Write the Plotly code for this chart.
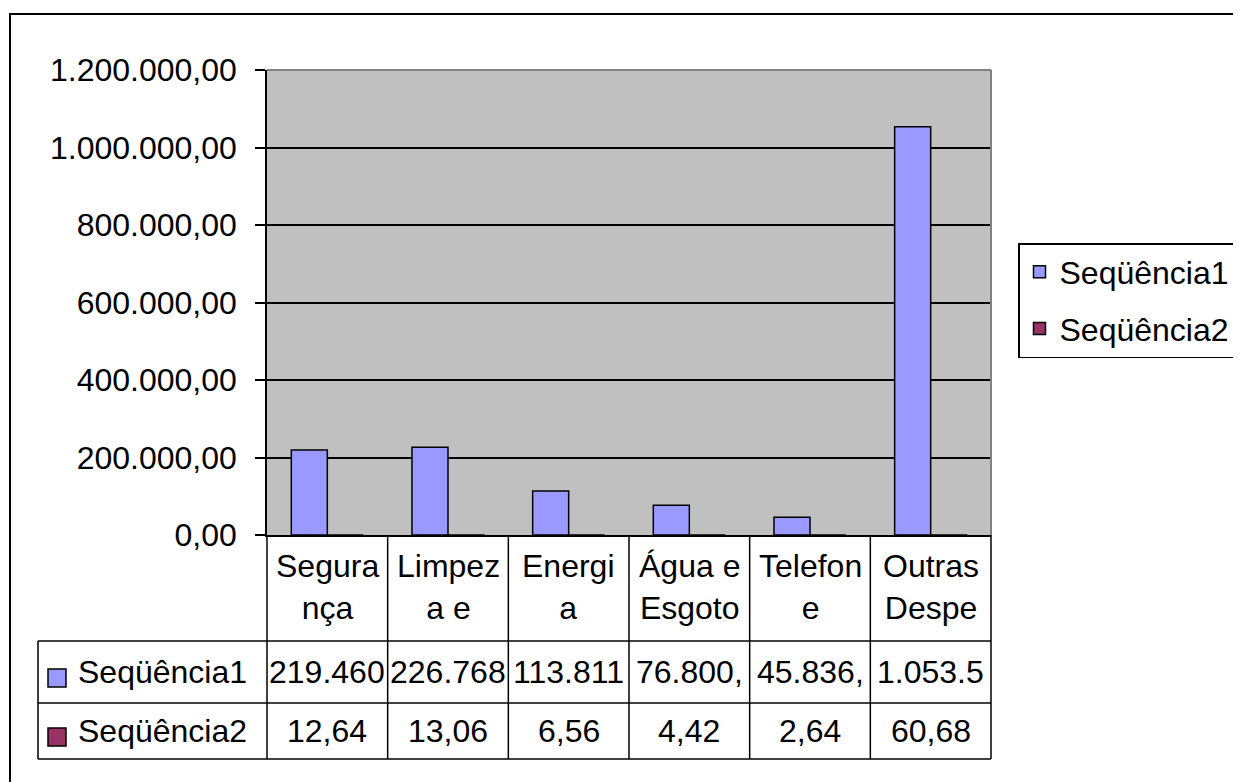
import plotly.graph_objects as go

# ---------------- data ----------------
categories = ["Segura<br>nça", "Limpez<br>a e", "Energi<br>a", "Água e<br>Esgoto", "Telefon<br>e", "Outras<br>Despe"]
series_names = ["Seqüência1", "Seqüência2"]
serie1 = [219460.0, 226768.0, 113811.0, 76800.0, 45836.0, 1053500.0]
serie2 = [12.64, 13.06, 6.56, 4.42, 2.64, 60.68]
y_tickvals = [0, 200000, 400000, 600000, 800000, 1000000, 1200000]
y_ticktext = ["0,00", "200.000,00", "400.000,00", "600.000,00", "800.000,00", "1.000.000,00", "1.200.000,00"]
colors = ["#9999FF", "#993366"]

FONT = "Liberation Sans, Arial, sans-serif"
FS = 32

def br(v):
    s = f"{v:,.2f}"
    return s.replace(",", "#").replace(".", ",").replace("#", ".")

def cell(v, n=7):
    return br(v)[:n]

# ---------------- geometry helpers ----------------
OFF = 8  # page body margin
W, H = 1241, 782
PLOT_X0, PLOT_X1, PLOT_Y0, PLOT_Y1 = 267, 991, 70, 535  # screen pixels of plot area
L = PLOT_X0 - OFF
T = PLOT_Y0 - OFF
PW = PLOT_X1 - PLOT_X0
PH = PLOT_Y1 - PLOT_Y0
R = W - L - PW
B = H - T - PH

def px(x):
    return (x - PLOT_X0) / PW
def py(y):
    return (PLOT_Y1 - y) / PH

fig = go.Figure()
for name, vals, col in zip(series_names, [serie1, serie2], colors):
    fig.add_trace(go.Bar(
        x=categories, y=vals, name=name, legendgroup=name,
        marker=dict(color=col, line=dict(color="black", width=1.5)),
        hoverinfo="skip",
    ))

shapes = []
annotations = []

# outer chart frame
shapes.append(dict(type="rect", xref="paper", yref="paper",
                   x0=px(10), x1=px(1300), y0=py(820), y1=py(14),
                   line=dict(color="black", width=2), layer="below"))
# plot area top/right grey border
shapes.append(dict(type="line", xref="paper", yref="paper", x0=0, x1=1, y0=1, y1=1,
                   line=dict(color="#808080", width=2)))
shapes.append(dict(type="line", xref="paper", yref="paper", x0=1, x1=1, y0=0, y1=1,
                   line=dict(color="#808080", width=2)))

# data table lines
n = len(categories)
y_cat_bottom, y_row1_bottom, y_row2_bottom = 641, 703, 759
for k in range(n + 1):
    shapes.append(dict(type="line", xref="paper", yref="paper", x0=k / n, x1=k / n,
                       y0=py(535), y1=py(y_row2_bottom), line=dict(color="black", width=1.5)))
for yy in [y_cat_bottom, y_row1_bottom, y_row2_bottom]:
    shapes.append(dict(type="line", xref="paper", yref="paper", x0=px(38), x1=1,
                       y0=py(yy), y1=py(yy), line=dict(color="black", width=1.5)))
shapes.append(dict(type="line", xref="paper", yref="paper", x0=px(38), x1=px(38),
                   y0=py(y_cat_bottom), y1=py(y_row2_bottom), line=dict(color="black", width=1.5)))

# category labels
for c in categories:
    annotations.append(dict(x=c, xref="x", y=py(587), yref="paper", text=c, showarrow=False,
                            font=dict(family=FONT, size=FS, color="black"),
                            xanchor="center", yanchor="middle"))
# value rows
row_centers = [672, 731]
for vals, yc, fmt in [(serie1, row_centers[0], lambda v: cell(v)), (serie2, row_centers[1], lambda v: br(v))]:
    for c, v in zip(categories, vals):
        annotations.append(dict(x=c, xref="x", y=py(yc), yref="paper", text=fmt(v), showarrow=False,
                                font=dict(family=FONT, size=FS, color="black"),
                                xanchor="center", yanchor="middle"))
# row headers with keys
for name, col, yc in zip(series_names, colors, row_centers):
    shapes.append(dict(type="rect", xref="paper", yref="paper",
                       x0=px(48), x1=px(66), y0=py(yc + 15), y1=py(yc - 3),
                       fillcolor=col, line=dict(color="black", width=1.5)))
    annotations.append(dict(x=px(76), xref="paper", y=py(yc), yref="paper", text=name, showarrow=False,
                            font=dict(family=FONT, size=FS, color="black"),
                            xanchor="left", yanchor="middle"))

fig.update_layout(
    width=W, height=H,
    margin=dict(l=L, r=R, t=T, b=B, autoexpand=False),
    paper_bgcolor="white", plot_bgcolor="#C0C0C0",
    barmode="group", bargap=0.403, bargroupgap=0,
    font=dict(family=FONT, size=FS, color="black"),
    showlegend=True,
    legend=dict(x=px(1018), y=py(243), xanchor="left", yanchor="top",
                bordercolor="black", borderwidth=1.5, bgcolor="white",
                font=dict(family=FONT, size=FS, color="black"),
                traceorder="grouped", tracegroupgap=12),
    xaxis=dict(showticklabels=False, ticks="", showline=True, linecolor="black", linewidth=1.5,
               showgrid=False, zeroline=False, fixedrange=True),
    yaxis=dict(range=[0, 1200000], tickvals=y_tickvals, ticktext=y_ticktext,
               showgrid=True, gridcolor="black", gridwidth=1.5,
               showline=True, linecolor="black", linewidth=1.5,
               ticks="outside", ticklen=10, tickcolor="black", tickwidth=1.5,
               ticklabelstandoff=12, zeroline=False, fixedrange=True,
               tickfont=dict(family=FONT, size=FS, color="black")),
    shapes=shapes, annotations=annotations,
)

fig.write_html("out.html")
